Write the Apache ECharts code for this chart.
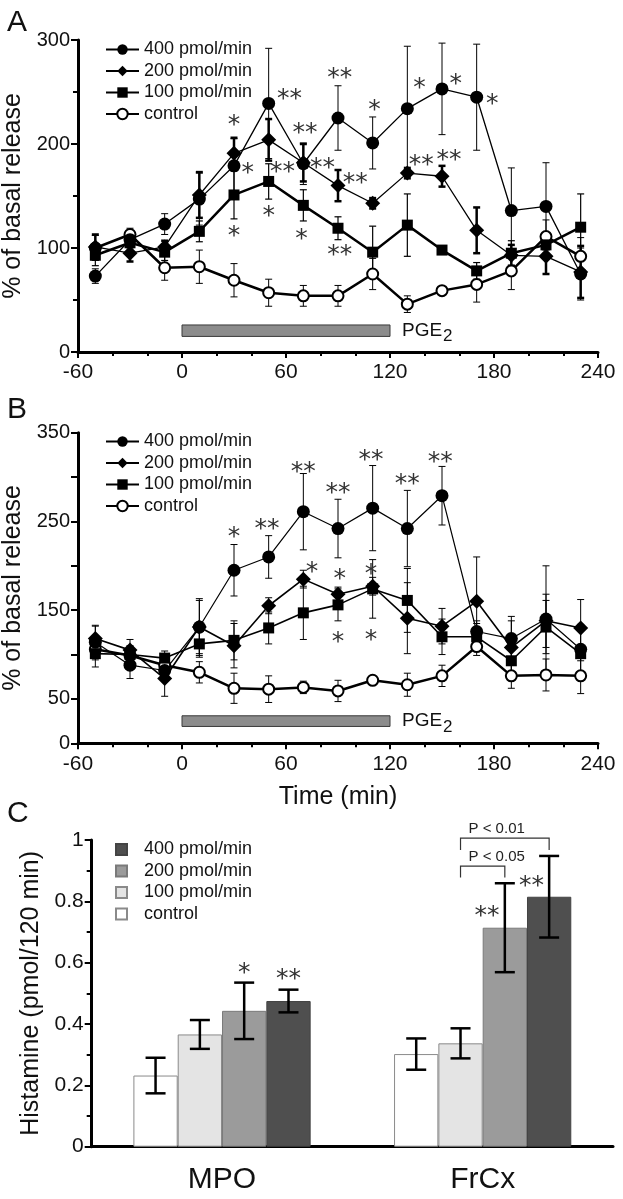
<!DOCTYPE html>
<html><head><meta charset="utf-8">
<script src="https://cdn.jsdelivr.net/npm/echarts@6/dist/echarts.min.js"></script>
<style>html,body{margin:0;padding:0;background:#fff}#c{width:623px;height:1199px}</style>
</head><body><div id="c"></div>
<script>
// ---------- DATA ----------
const times = [-50,-30,-10,10,30,50,70,90,110,130,150,170,190,210,230];
const xTicks = [-60, 0, 60, 120, 180, 240];
// Panel A (% of basal release)
const a400 = [73,108,123,147,179,239,181,225,201,234,253,245,136,140,75];
const a400Err = [7,8,10,25,26,53,20,31,25,60,44,51,41,42,25];
const a200 = [101,95,101,151,191,204,182,160,143,172,169,117,93,92,77];
const a200Err = [12,8,6,22,15,20,18,15,5,5,10,22,10,17,25];
const a100 = [93,105,96,116,151,164,141,119,96,122,98,78,95,103,120];
const a100Err = [10,10,8,10,23,17,15,11,25,30,4,8,12,10,32];
const aCtl = [100,113,81,82,69,57,54,54,75,46,59,65,78,111,92];
const aCtlErr = [12,6,12,16,16,13,10,10,15,8,4,17,18,16,18];
const aStars = [[30,225,'*'],[62,250,'**'],[38,178,'*'],[58,179,'**'],[71,217,'**'],[91,270,'**'],[111,239,'*'],[137,260,'*'],[158,264,'*'],[179,245,'*'],[81,183,'**'],[100,169,'**'],[138,186,'**'],[154,191,'**'],[91,100,'**'],[30,118,'*'],[50,137,'*'],[69,115,'*']];
const aPge = [[0,120,15,26]];
// Panel B
const b400 = [114,88,82,131,195,210,261,242,265,242,279,126,118,140,106];
const b400Err = [18,15,10,32,29,24,43,33,48,43,33,12,25,60,28];
const b200 = [118,105,73,131,110,155,185,168,177,141,132,160,108,138,130];
const b200Err = [15,12,20,30,25,9,10,8,10,40,20,50,30,30,32];
const b100 = [101,100,96,112,116,130,147,156,174,161,120,120,93,131,101];
const b100Err = [15,10,8,15,22,18,30,18,33,36,20,15,20,30,8];
const bCtl = [106,99,88,80,62,61,63,59,71,66,76,109,76,77,76];
const bCtlErr = [12,10,10,12,17,15,7,12,5,13,12,10,14,18,20];
const bStars = [[30,240,'*'],[49,249,'**'],[70,313,'**'],[75,200,'*'],[90,289,'**'],[109,326,'**'],[130,300,'**'],[149,324,'**'],[91,192,'*'],[109,198,'*'],[90,122,'*'],[109,124,'*']];
const bPge = [[0,120,19,31]];
// Panel C (Histamine pmol/120 min)
const cCats = ['MPO','FrCx'];
const cCtl = [0.232,0.302], cCtlErr = [0.058,0.051];
const c100 = [0.366,0.337], c100Err = [0.047,0.049];
const c200 = [0.443,0.714], c200Err = [0.092,0.145];
const c400 = [0.475,0.815], c400Err = [0.037,0.133];
// [category, bar (0=control..3=400), y, text, placement]
const cStars = [[0,2,0.587,'*','top'],[0,3,0.567,'**','top'],[1,2,0.772,'**','left'],[1,3,0.87,'**','left']];
// [category, fromBar, toBar, levelY, endY, label]
const cBrackets = [[1,1,3,1.006,0.967,'P < 0.01'],[1,1,2,0.915,0.878,'P < 0.05']];
const seriesLabels = {'400':'400 pmol/min','200':'200 pmol/min','100':'100 pmol/min','ctl':'control'};

// ---------- HELPERS ----------
const FONT = 'Liberation Sans, Arial, sans-serif';
const zip = (xs, ys) => xs.map((x,i)=>[x, ys[i]]);
const zip3 = (xs, ys, es) => xs.map((x,i)=>[x, ys[i], es[i]]);
function errItem(capHalf, lw){
  return function(params, api){
    const x = api.value(0), y = api.value(1), e = api.value(2);
    const hi = api.coord([x, y+e]), lo = api.coord([x, y-e]);
    const st = {stroke:'#000', lineWidth: lw};
    return {type:'group', children:[
      {type:'line', shape:{x1:hi[0],y1:hi[1],x2:lo[0],y2:lo[1]}, style:st},
      {type:'line', shape:{x1:hi[0]-capHalf,y1:hi[1],x2:hi[0]+capHalf,y2:hi[1]}, style:st},
      {type:'line', shape:{x1:lo[0]-capHalf,y1:lo[1],x2:lo[0]+capHalf,y2:lo[1]}, style:st}
    ]};
  };
}
function starItem(arr){
  return function(params, api){
    const s = arr[params.dataIndex];
    const p = api.coord([s[0], s[1]]);
    return {type:'text', x:p[0], y:p[1]+7, style:{text:s[2], fontSize:25, fontFamily:'DejaVu Sans', fill:'#333', align:'center', verticalAlign:'middle'}};
  };
}
function pgeItem(params, api){
  const p0 = api.coord([api.value(0), api.value(3)]);
  const p1 = api.coord([api.value(1), api.value(2)]);
  const mid = (p0[1]+p1[1])/2;
  return {type:'group', children:[
    {type:'rect', shape:{x:p0[0], y:p0[1], width:p1[0]-p0[0], height:p1[1]-p0[1]}, style:{fill:'#8c8c8c', stroke:'#3a3a3a', lineWidth:1}},
    {type:'text', x:p1[0]+12, y:mid, style:{text:'PGE', fontSize:19, fontFamily:FONT, fill:'#111', verticalAlign:'middle'}},
    {type:'text', x:p1[0]+53, y:mid+6, style:{text:'2', fontSize:17, fontFamily:FONT, fill:'#111', verticalAlign:'middle'}}
  ]};
}
function lineSeries(name, idx, data, symbol, size, lw, open){
  return {type:'line', name:name, xAxisIndex:idx, yAxisIndex:idx, data:data, symbol:symbol, symbolSize:size,
    lineStyle:{color:'#000', width:lw}, itemStyle: open ? {color:'#fff', borderColor:'#000', borderWidth:2} : {color:'#000'},
    z:3, animation:false};
}
function errSeries(idx, data, lw){
  return {type:'custom', xAxisIndex:idx, yAxisIndex:idx, data:data, renderItem:errItem(3.5, lw), z:2, silent:true, animation:false};
}
function timeX(idx){
  return {type:'value', gridIndex:idx, min:-60, max:240, interval:60,
    axisLine:{onZero:false, lineStyle:{color:'#000', width:3}}, axisTick:{length:6, lineStyle:{color:'#000', width:2}},
    minorTick:{show:true, splitNumber:3, length:4, lineStyle:{color:'#000', width:2}},
    splitLine:{show:false}, minorSplitLine:{show:false},
    axisLabel:{fontSize:21, color:'#111', fontFamily:FONT, margin:10, formatter: v => xTicks.includes(v) ? String(v) : ''}};
}
function valY(idx, max, interval, name, gap, extra){
  return Object.assign({type:'value', gridIndex:idx, min:0, max:max, interval:interval,
      name:name, nameLocation:'middle', nameGap:gap, nameTextStyle:{fontSize:25, color:'#111', fontFamily:FONT},
      axisLine:{show:true, onZero:false, lineStyle:{color:'#000', width:3}}, axisTick:{show:true, length:7, lineStyle:{color:'#000', width:2}},
      splitLine:{show:false}, minorSplitLine:{show:false},
      axisLabel:{fontSize:20, color:'#111', fontFamily:FONT, margin:8}}, extra);
}
function cBarX(api, cat, bar){
  const c = api.coord([cat, 0]);
  const bw = api.size([1,0])[0] * 0.68 / 4;
  return c[0] + (bar - 1.5) * bw;
}

// ---------- CHART ----------
const chart = echarts.init(document.getElementById('c'), null, {renderer:'canvas'});
const fmt = n => seriesLabels[n.split('_')[1]];
const minorY = {show:true, splitNumber:2, length:5, lineStyle:{color:'#000', width:2}};
const legendText = {fontSize:18, color:'#111', fontFamily:FONT};
const option = {
  animation:false,
  textStyle:{fontFamily:FONT},
  grid:[
    {left:78, right:25, top:40, height:312, outerBoundsMode:'none'},
    {left:78, right:25, top:432.7, height:310.6, outerBoundsMode:'none'},
    {left:91.7, right:10, top:840, height:306.7, outerBoundsMode:'none'}
  ],
  xAxis:[
    timeX(0),
    Object.assign(timeX(1), {name:'Time (min)', nameLocation:'middle', nameGap:41, nameTextStyle:{fontSize:25, color:'#111', fontFamily:FONT}}),
    {type:'category', gridIndex:2, data:cCats, axisLine:{onZero:false, lineStyle:{color:'#000', width:3}},
      axisTick:{length:7, alignWithLabel:false, lineStyle:{color:'#000', width:2}},
      axisLabel:{fontSize:30, color:'#111', fontFamily:FONT, margin:18}}
  ],
  yAxis:[
    valY(0, 300, 100, '% of basal release', 43, {minorTick:minorY}),
    valY(1, 350, 50, '% of basal release', 43, {axisLabel:{fontSize:20, color:'#111', fontFamily:FONT, margin:8, formatter: v => (v===0 || (v/50)%2===1) ? String(v) : ''}}),
    valY(2, 1, 0.2, 'Histamine (pmol/120 min)', 46, {minorTick:minorY, axisLabel:{fontSize:21, color:'#111', fontFamily:FONT, margin:8}})
  ],
  legend:[
    {data:['A_400','A_200','A_100','A_ctl'], orient:'vertical', left:105, top:40.5, padding:0, itemWidth:33, itemHeight:13, itemGap:3.5,
      formatter:fmt, selectedMode:false, textStyle:legendText},
    {data:['B_400','B_200','B_100','B_ctl'], orient:'vertical', left:105, top:432.5, padding:0, itemWidth:33, itemHeight:13, itemGap:3.5,
      formatter:fmt, selectedMode:false, textStyle:legendText},
    {data:['C_400','C_200','C_100','C_ctl'], orient:'vertical', left:115, top:840.5, padding:0, itemWidth:11, itemHeight:11, itemGap:3.5, icon:'rect',
      formatter:fmt, selectedMode:false, textStyle:Object.assign({padding:[0,0,0,12]}, legendText)}
  ],
  graphic:[
    {type:'text', left:7, top:8, style:{text:'A', fontSize:30, fontFamily:FONT, fill:'#111'}},
    {type:'text', left:7, top:395, style:{text:'B', fontSize:30, fontFamily:FONT, fill:'#111'}},
    {type:'text', left:7, top:799, style:{text:'C', fontSize:30, fontFamily:FONT, fill:'#111'}}
  ],
  series:[
    // Panel A
    errSeries(0, zip3(times, a400, a400Err), 1),
    errSeries(0, zip3(times, a200, a200Err), 2.5),
    errSeries(0, zip3(times, a100, a100Err), 1.2),
    errSeries(0, zip3(times, aCtl, aCtlErr), 1),
    lineSeries('A_ctl', 0, zip(times, aCtl), 'circle', 11, 2.5, true),
    lineSeries('A_100', 0, zip(times, a100), 'rect', 11, 2.5, false),
    lineSeries('A_200', 0, zip(times, a200), 'diamond', 15, 1.3, false),
    lineSeries('A_400', 0, zip(times, a400), 'circle', 13, 1.3, false),
    {type:'custom', xAxisIndex:0, yAxisIndex:0, data:aStars.map(s=>[s[0],s[1]]), renderItem:starItem(aStars), z:4, silent:true},
    {type:'custom', xAxisIndex:0, yAxisIndex:0, data:aPge, renderItem:pgeItem, z:1, silent:true},
    // Panel B
    errSeries(1, zip3(times, b400, b400Err), 1),
    errSeries(1, zip3(times, b200, b200Err), 1),
    errSeries(1, zip3(times, b100, b100Err), 1),
    errSeries(1, zip3(times, bCtl, bCtlErr), 1),
    lineSeries('B_ctl', 1, zip(times, bCtl), 'circle', 11, 2.5, true),
    lineSeries('B_100', 1, zip(times, b100), 'rect', 11, 1.6, false),
    lineSeries('B_200', 1, zip(times, b200), 'diamond', 15, 1.6, false),
    lineSeries('B_400', 1, zip(times, b400), 'circle', 13, 1.2, false),
    {type:'custom', xAxisIndex:1, yAxisIndex:1, data:bStars.map(s=>[s[0],s[1]]), renderItem:starItem(bStars), z:4, silent:true},
    {type:'custom', xAxisIndex:1, yAxisIndex:1, data:bPge, renderItem:pgeItem, z:1, silent:true},
    // Panel C
    {type:'bar', name:'C_ctl', xAxisIndex:2, yAxisIndex:2, data:cCtl, barGap:'0%', barCategoryGap:'32%', itemStyle:{color:'#ffffff', borderColor:'#8a8a8a', borderWidth:1}},
    {type:'bar', name:'C_100', xAxisIndex:2, yAxisIndex:2, data:c100, barGap:'0%', barCategoryGap:'32%', itemStyle:{color:'#e4e4e4', borderColor:'#8a8a8a', borderWidth:1}},
    {type:'bar', name:'C_200', xAxisIndex:2, yAxisIndex:2, data:c200, barGap:'0%', barCategoryGap:'32%', itemStyle:{color:'#9b9b9b', borderColor:'#7a7a7a', borderWidth:1}},
    {type:'bar', name:'C_400', xAxisIndex:2, yAxisIndex:2, data:c400, barGap:'0%', barCategoryGap:'32%', itemStyle:{color:'#4f4f4f', borderColor:'#444', borderWidth:1}},
    {type:'custom', xAxisIndex:2, yAxisIndex:2, z:5, silent:true,
      data:[cCtl,c100,c200,c400].flatMap((arr,b)=>arr.map((v,c)=>[c, b, v, [cCtlErr,c100Err,c200Err,c400Err][b][c]])),
      encode:{x:0, y:2},
      renderItem:function(params, api){
        const c = api.value(0), b = api.value(1), v = api.value(2), e = api.value(3);
        const x = cBarX(api, c, b);
        const hi = api.coord([c, v+e])[1], lo = api.coord([c, v-e])[1];
        const st = {stroke:'#000', lineWidth:2.5};
        return {type:'group', children:[
          {type:'line', shape:{x1:x,y1:hi,x2:x,y2:lo}, style:st},
          {type:'line', shape:{x1:x-10,y1:hi,x2:x+10,y2:hi}, style:st},
          {type:'line', shape:{x1:x-10,y1:lo,x2:x+10,y2:lo}, style:st}
        ]};
      }},
    {type:'custom', xAxisIndex:2, yAxisIndex:2, z:5, silent:true, data:cStars.map(s=>[s[0], s[2]]),
      renderItem:function(params, api){
        const s = cStars[params.dataIndex];
        const bw = api.size([1,0])[0] * 0.68 / 4;
        let x = cBarX(api, s[0], s[1]);
        if (s[4] === 'left') x -= bw * 0.4;
        const y = api.coord([s[0], s[2]])[1];
        return {type:'text', x:x, y:y+7, style:{text:s[3], fontSize:25, fontFamily:'DejaVu Sans', fill:'#333', align:'center', verticalAlign:'middle'}};
      }},
    {type:'custom', xAxisIndex:2, yAxisIndex:2, z:5, silent:true, data:cBrackets.map(s=>[s[0], s[3]]),
      renderItem:function(params, api){
        const s = cBrackets[params.dataIndex];
        const x1 = cBarX(api, s[0], s[1]), x2 = cBarX(api, s[0], s[2]);
        const yl = api.coord([s[0], s[3]])[1], ye = api.coord([s[0], s[4]])[1];
        return {type:'group', children:[
          {type:'polyline', shape:{points:[[x1,ye],[x1,yl],[x2,yl],[x2,ye]]}, style:{stroke:'#333', lineWidth:1.2, fill:null}},
          {type:'text', x:x1+8, y:yl-2, style:{text:s[5], fontSize:15, fontFamily:FONT, fill:'#222', verticalAlign:'bottom'}}
        ]};
      }}
  ]
};
chart.setOption(option);
</script></body></html>
